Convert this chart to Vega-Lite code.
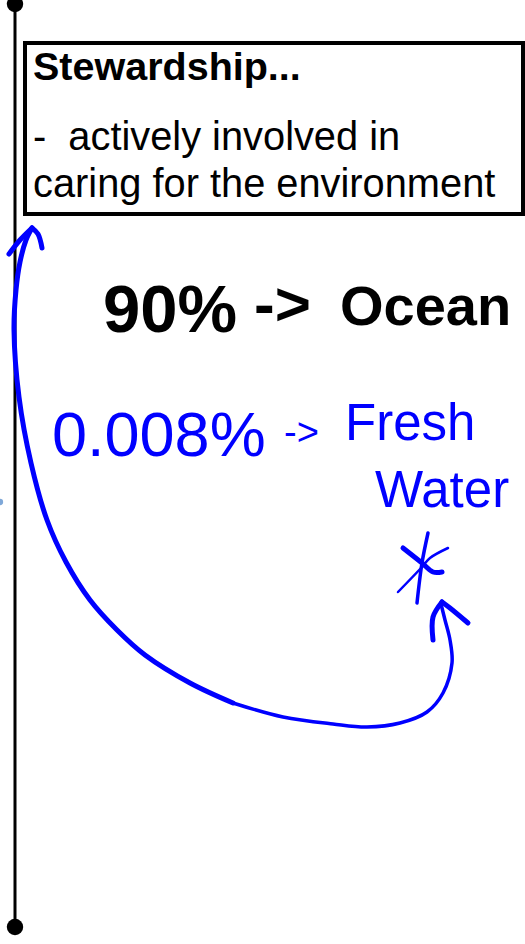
{
  "$schema": "https://vega.github.io/schema/vega-lite/v6.json",
  "width": 525,
  "height": 944,
  "padding": 0,
  "autosize": {"type": "none"},
  "background": "white",
  "config": {"view": {"stroke": null}},
  "datasets": {
    "ink": [
      {"s": "curveA", "o": 1, "x": 32, "y": 228},
      {"s": "curveA", "o": 2, "x": 26, "y": 240},
      {"s": "curveA", "o": 3, "x": 20, "y": 262},
      {"s": "curveA", "o": 4, "x": 16, "y": 290},
      {"s": "curveA", "o": 5, "x": 14, "y": 330},
      {"s": "curveA", "o": 6, "x": 19, "y": 397},
      {"s": "curveA", "o": 7, "x": 31, "y": 463},
      {"s": "curveA", "o": 8, "x": 47, "y": 520},
      {"s": "curveA", "o": 9, "x": 66, "y": 562},
      {"s": "curveA", "o": 10, "x": 90, "y": 600},
      {"s": "curveA", "o": 11, "x": 117, "y": 630},
      {"s": "curveA", "o": 12, "x": 145, "y": 655},
      {"s": "curveA", "o": 13, "x": 190, "y": 683},
      {"s": "curveA", "o": 14, "x": 233, "y": 703},
      {"s": "curveB", "o": 1, "x": 233, "y": 703},
      {"s": "curveB", "o": 2, "x": 283, "y": 717},
      {"s": "curveB", "o": 3, "x": 333, "y": 724},
      {"s": "curveB", "o": 4, "x": 367, "y": 727},
      {"s": "curveB", "o": 5, "x": 400, "y": 723},
      {"s": "curveB", "o": 6, "x": 427, "y": 712},
      {"s": "curveB", "o": 7, "x": 443, "y": 693},
      {"s": "curveB", "o": 8, "x": 452, "y": 663},
      {"s": "curveB", "o": 9, "x": 450, "y": 640},
      {"s": "curveB", "o": 10, "x": 445, "y": 620},
      {"s": "curveB", "o": 11, "x": 441, "y": 604},
      {"s": "headTopL", "o": 1, "x": 9, "y": 254},
      {"s": "headTopL", "o": 2, "x": 20, "y": 240},
      {"s": "headTopL", "o": 3, "x": 32, "y": 228},
      {"s": "headTopR", "o": 1, "x": 32, "y": 228},
      {"s": "headTopR", "o": 2, "x": 38, "y": 234},
      {"s": "headTopR", "o": 3, "x": 42, "y": 248},
      {"s": "headBotL", "o": 1, "x": 433, "y": 640},
      {"s": "headBotL", "o": 2, "x": 433, "y": 617},
      {"s": "headBotL", "o": 3, "x": 442, "y": 602},
      {"s": "headBotR", "o": 1, "x": 442, "y": 602},
      {"s": "headBotR", "o": 2, "x": 450, "y": 608},
      {"s": "headBotR", "o": 3, "x": 468, "y": 623},
      {"s": "star1", "o": 1, "x": 428, "y": 533},
      {"s": "star1", "o": 2, "x": 422, "y": 563},
      {"s": "star1", "o": 3, "x": 417, "y": 603},
      {"s": "star2", "o": 1, "x": 403, "y": 548},
      {"s": "star2", "o": 2, "x": 422, "y": 563},
      {"s": "star2", "o": 3, "x": 433, "y": 572},
      {"s": "star2", "o": 4, "x": 442, "y": 572},
      {"s": "star3", "o": 1, "x": 398, "y": 592},
      {"s": "star3", "o": 2, "x": 422, "y": 567},
      {"s": "star3", "o": 3, "x": 430, "y": 558},
      {"s": "star3", "o": 4, "x": 448, "y": 548}
    ],
    "notes": [
      {"t": "90%", "x": 103, "y": 332},
      {"t": "->", "x": 254, "y": 325},
      {"t": "Ocean", "x": 340, "y": 325},
      {"t": "0.008%", "x": 52, "y": 456},
      {"t": "-> ", "x": 284, "y": 445},
      {"t": "Fresh", "x": 345, "y": 440},
      {"t": "Water", "x": 375, "y": 507}
    ]
  },
  "layer": [
    {
      "data": {"values": [{"x": 15, "y": 2, "y2": 927}]},
      "mark": {"type": "rule", "color": "black", "strokeWidth": 3},
      "encoding": {
        "x": {"field": "x", "type": "quantitative", "scale": {"domain": [0, 525], "nice": false, "zero": false}, "axis": null},
        "y": {"field": "y", "type": "quantitative", "scale": {"domain": [0, 944], "reverse": true, "nice": false, "zero": false}, "axis": null},
        "y2": {"field": "y2"}
      }
    },
    {
      "data": {"values": [{"x": 15, "y": 4}, {"x": 15, "y": 927}]},
      "mark": {"type": "point", "filled": true, "shape": "circle", "size": 270, "color": "black", "opacity": 1},
      "encoding": {
        "x": {"field": "x", "type": "quantitative", "axis": null},
        "y": {"field": "y", "type": "quantitative", "axis": null}
      }
    },
    {
      "data": {"values": [{"x": 0, "y": 502}]},
      "mark": {"type": "point", "filled": true, "shape": "circle", "size": 40, "color": "#7fa8d8", "opacity": 1},
      "encoding": {
        "x": {"field": "x", "type": "quantitative", "axis": null},
        "y": {"field": "y", "type": "quantitative", "axis": null}
      }
    },
    {
      "data": {"values": [{"x": 25, "x2": 523, "y": 43, "y2": 214}]},
      "mark": {"type": "rect", "fillOpacity": 0, "fill": "white", "stroke": "black", "strokeWidth": 4},
      "encoding": {
        "x": {"field": "x", "type": "quantitative", "axis": null},
        "x2": {"field": "x2"},
        "y": {"field": "y", "type": "quantitative", "axis": null},
        "y2": {"field": "y2"}
      }
    },
    {
      "data": {"values": [{"t": "Stewardship...", "x": 33, "y": 80}]},
      "mark": {"type": "text", "align": "left", "baseline": "alphabetic", "font": "Liberation Sans", "fontWeight": "bold", "fontSize": 39.5, "color": "black"},
      "encoding": {
        "x": {"field": "x", "type": "quantitative", "axis": null},
        "y": {"field": "y", "type": "quantitative", "axis": null},
        "text": {"field": "t"}
      }
    },
    {
      "data": {"values": [{"t": "-\u00a0 actively involved in", "x": 33, "y": 150}, {"t": "caring for the environment", "x": 33, "y": 197}]},
      "mark": {"type": "text", "align": "left", "baseline": "alphabetic", "font": "Liberation Sans", "fontSize": 39.8, "color": "black"},
      "encoding": {
        "x": {"field": "x", "type": "quantitative", "axis": null},
        "y": {"field": "y", "type": "quantitative", "axis": null},
        "text": {"field": "t"}
      }
    },
    {
      "data": {"name": "notes"},
      "transform": [{"filter": {"field": "t", "equal": "90%"}}],
      "mark": {"type": "text", "align": "left", "baseline": "alphabetic", "font": "Liberation Sans", "fontWeight": "bold", "fontSize": 67, "color": "black"},
      "encoding": {
        "x": {"field": "x", "type": "quantitative", "axis": null},
        "y": {"field": "y", "type": "quantitative", "axis": null},
        "text": {"field": "t"}
      }
    },
    {
      "data": {"name": "notes"},
      "transform": [{"filter": {"field": "t", "equal": "->"}}],
      "mark": {"type": "text", "align": "left", "baseline": "alphabetic", "font": "Liberation Sans", "fontWeight": "bold", "fontSize": 62, "color": "black"},
      "encoding": {
        "x": {"field": "x", "type": "quantitative", "axis": null},
        "y": {"field": "y", "type": "quantitative", "axis": null},
        "text": {"field": "t"}
      }
    },
    {
      "data": {"name": "notes"},
      "transform": [{"filter": {"field": "t", "equal": "Ocean"}}],
      "mark": {"type": "text", "align": "left", "baseline": "alphabetic", "font": "Liberation Sans", "fontWeight": "bold", "fontSize": 56, "color": "black"},
      "encoding": {
        "x": {"field": "x", "type": "quantitative", "axis": null},
        "y": {"field": "y", "type": "quantitative", "axis": null},
        "text": {"field": "t"}
      }
    },
    {
      "data": {"name": "notes"},
      "transform": [{"filter": {"field": "t", "equal": "0.008%"}}],
      "mark": {"type": "text", "align": "left", "baseline": "alphabetic", "font": "Liberation Sans", "fontSize": 63, "color": "#0000ff"},
      "encoding": {
        "x": {"field": "x", "type": "quantitative", "axis": null},
        "y": {"field": "y", "type": "quantitative", "axis": null},
        "text": {"field": "t"}
      }
    },
    {
      "data": {"name": "notes"},
      "transform": [{"filter": {"field": "t", "equal": "-> "}}],
      "mark": {"type": "text", "align": "left", "baseline": "alphabetic", "font": "Liberation Sans", "fontSize": 38, "color": "#0000ff"},
      "encoding": {
        "x": {"field": "x", "type": "quantitative", "axis": null},
        "y": {"field": "y", "type": "quantitative", "axis": null},
        "text": {"field": "t"}
      }
    },
    {
      "data": {"name": "notes"},
      "transform": [{"filter": {"field": "t", "oneOf": ["Fresh", "Water"]}}],
      "mark": {"type": "text", "align": "left", "baseline": "alphabetic", "font": "Liberation Sans", "fontSize": 51, "color": "#0000ff"},
      "encoding": {
        "x": {"field": "x", "type": "quantitative", "axis": null},
        "y": {"field": "y", "type": "quantitative", "axis": null},
        "text": {"field": "t"}
      }
    },
    {
      "data": {"name": "ink"},
      "transform": [{"filter": {"field": "s", "oneOf": ["curveA", "headTopL", "headTopR", "headBotL", "headBotR", "star2"]}}],
      "mark": {"type": "line", "color": "#0000ff", "strokeWidth": 5, "strokeCap": "round", "strokeJoin": "round", "interpolate": "catmull-rom"},
      "encoding": {
        "x": {"field": "x", "type": "quantitative", "axis": null},
        "y": {"field": "y", "type": "quantitative", "axis": null},
        "detail": {"field": "s"},
        "order": {"field": "o"}
      }
    },
    {
      "data": {"name": "ink"},
      "transform": [{"filter": {"field": "s", "oneOf": ["curveB", "star1"]}}],
      "mark": {"type": "line", "color": "#0000ff", "strokeWidth": 3.5, "strokeCap": "round", "strokeJoin": "round", "interpolate": "catmull-rom"},
      "encoding": {
        "x": {"field": "x", "type": "quantitative", "axis": null},
        "y": {"field": "y", "type": "quantitative", "axis": null},
        "detail": {"field": "s"},
        "order": {"field": "o"}
      }
    },
    {
      "data": {"name": "ink"},
      "transform": [{"filter": {"field": "s", "oneOf": ["star3"]}}],
      "mark": {"type": "line", "color": "#0000ff", "strokeWidth": 2.5, "strokeCap": "round", "strokeJoin": "round", "interpolate": "catmull-rom"},
      "encoding": {
        "x": {"field": "x", "type": "quantitative", "axis": null},
        "y": {"field": "y", "type": "quantitative", "axis": null},
        "detail": {"field": "s"},
        "order": {"field": "o"}
      }
    }
  ]
}
